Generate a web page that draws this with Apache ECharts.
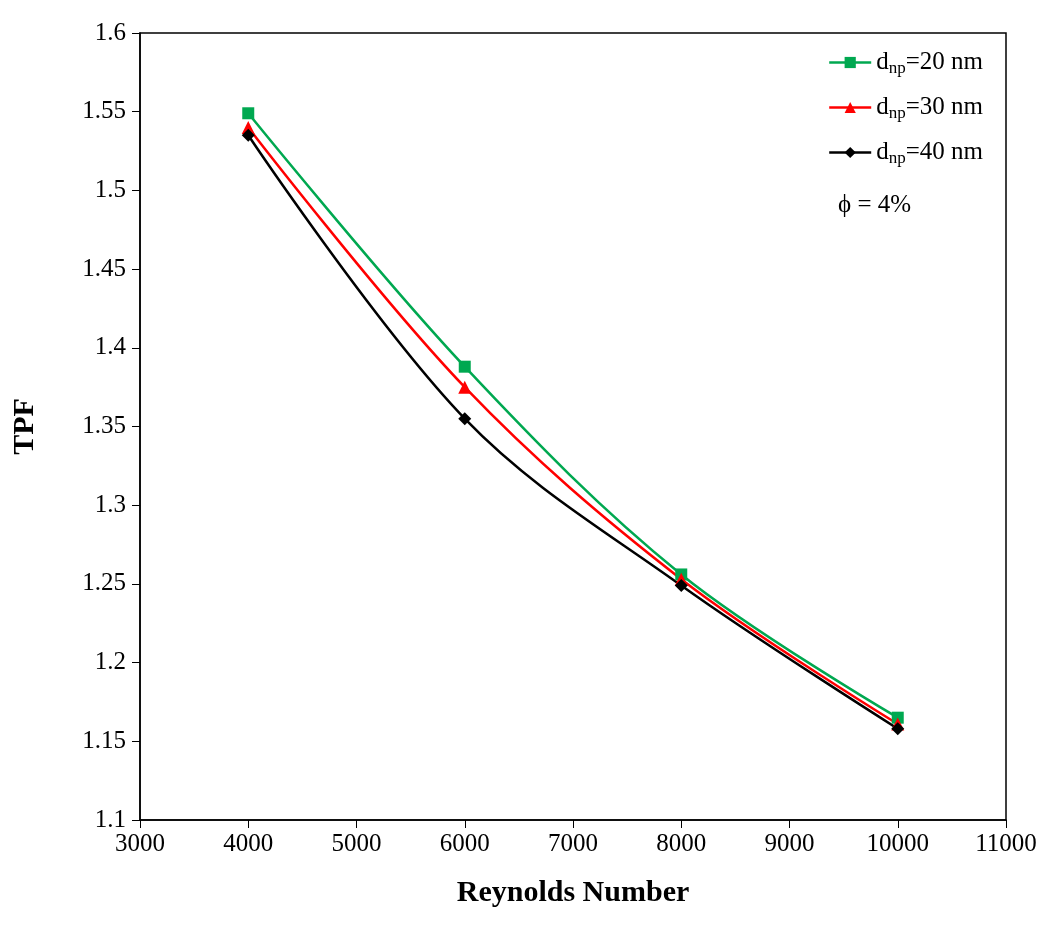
<!DOCTYPE html>
<html><head><meta charset="utf-8">
<script src="https://cdn.jsdelivr.net/npm/echarts@6/dist/echarts.min.js"></script>
<style>html,body{margin:0;padding:0;background:#fff}#c{width:1058px;height:930px}</style>
</head><body><div id="c"></div>
<script>
const reynolds = [4000, 6000, 8000, 10000];
const tpf20 = [1.549, 1.388, 1.256, 1.165];
const tpf30 = [1.540, 1.375, 1.253, 1.161];
const tpf40 = [1.535, 1.355, 1.249, 1.158];
const names = ['d20', 'd30', 'd40'];
const labels = {d20: '20', d30: '30', d40: '40'};
const F = 'Liberation Serif';
function mk(name, vals, color, symbol, size) {
  return {name, type: 'line', smooth: 0.35, data: reynolds.map((x, i) => [x, vals[i]]),
    symbol, symbolSize: size, lineStyle: {color, width: 2.5}, itemStyle: {color}};
}
const chart = echarts.init(document.getElementById('c'));
chart.setOption({
  animation: false,
  textStyle: {fontFamily: F},
  grid: {left: 140, right: 52, top: 33, bottom: 110, show: true, borderColor: '#000', borderWidth: 1.5},
  xAxis: {type: 'value', min: 3000, max: 11000, interval: 1000, name: 'Reynolds Number', nameLocation: 'middle', nameGap: 58,
    nameTextStyle: {fontFamily: F, fontSize: 30, fontWeight: 'bold', color: '#000'},
    axisLine: {onZero: false, lineStyle: {color: '#000', width: 1.5}}, axisTick: {inside: false, length: 8, lineStyle: {color: '#000'}},
    axisLabel: {fontFamily: F, fontSize: 25, color: '#000', margin: 12, formatter: v => String(v)}, splitLine: {show: false}},
  yAxis: {type: 'value', min: 1.1, max: 1.6, interval: 0.05, name: 'TPF', nameLocation: 'middle', nameGap: 100,
    nameTextStyle: {fontFamily: F, fontSize: 30, fontWeight: 'bold', color: '#000'},
    axisLine: {onZero: false, lineStyle: {color: '#000', width: 1.5}}, axisTick: {inside: false, length: 8, lineStyle: {color: '#000'}},
    axisLabel: {fontFamily: F, fontSize: 25, color: '#000', margin: 14, formatter: v => String(+v.toFixed(2))}, splitLine: {show: false}},
  legend: {orient: 'vertical', right: 70, top: 45, itemGap: 18, itemWidth: 42, itemHeight: 14,
    data: names,
    itemStyle: {}, lineStyle: {width: 2.5},
    formatter: n => '{a|d}{s|np}{a|=' + labels[n] + ' nm}',
    textStyle: {rich: {a: {fontFamily: F, fontSize: 25, color: '#000'}, s: {fontFamily: F, fontSize: 17, color: '#000', verticalAlign: 'bottom', padding: [12, 0, 0, 0]}}}},
  graphic: [{type: 'text', left: 838, top: 193, style: {text: 'ϕ = 4%', font: '25px "Liberation Serif"', fill: '#000'}}],
  series: [
    mk('d20', tpf20, '#00a850', 'rect', 12),
    mk('d30', tpf30, '#ff0000', 'triangle', 13),
    mk('d40', tpf40, '#000000', 'diamond', 13)
  ]
});
</script></body></html>
